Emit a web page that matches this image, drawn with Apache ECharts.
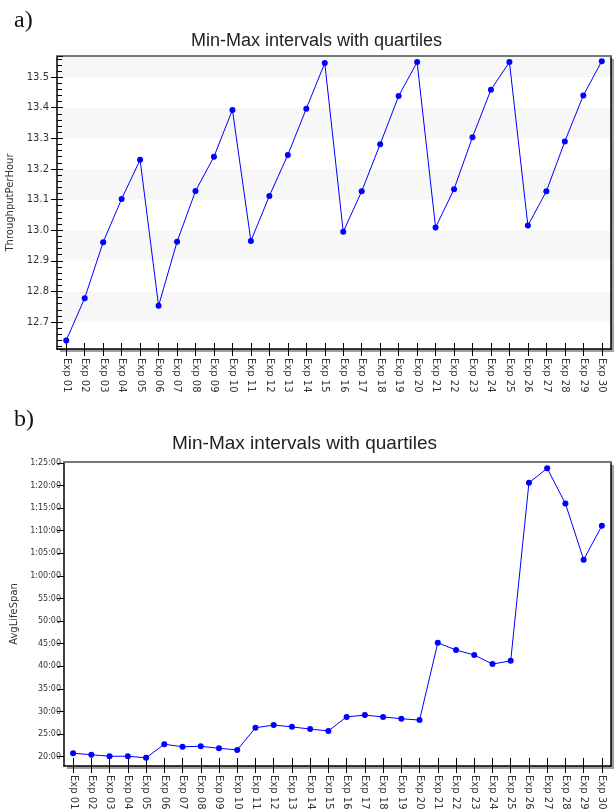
<!DOCTYPE html>
<html>
<head>
<meta charset="utf-8">
<script src="https://cdn.jsdelivr.net/npm/echarts@6/dist/echarts.min.js"></script>
<style>
html,body{margin:0;padding:0;background:#fff;}
#chart{width:615px;height:809px;}
</style>
</head>
<body>
<div id="chart"></div>
<script>
// ---- data ----
const categories = ['Exp 01','Exp 02','Exp 03','Exp 04','Exp 05','Exp 06','Exp 07','Exp 08','Exp 09','Exp 10',
  'Exp 11','Exp 12','Exp 13','Exp 14','Exp 15','Exp 16','Exp 17','Exp 18','Exp 19','Exp 20',
  'Exp 21','Exp 22','Exp 23','Exp 24','Exp 25','Exp 26','Exp 27','Exp 28','Exp 29','Exp 30'];
const throughputPerHour = [12.64, 12.778, 12.961, 13.102, 13.23, 12.753, 12.962, 13.128, 13.24, 13.393,
  12.965, 13.112, 13.246, 13.397, 13.546, 12.995, 13.127, 13.281, 13.438, 13.549,
  13.009, 13.134, 13.304, 13.459, 13.549, 13.015, 13.127, 13.29, 13.44, 13.552];
// average life span in minutes
const avgLifeSpanMin = [20.75, 20.44, 20.1, 20.1, 19.75, 22.75, 22.2, 22.3, 21.85, 21.5,
  26.4, 27.0, 26.6, 26.1, 25.7, 28.8, 29.2, 28.8, 28.4, 28.1,
  45.2, 43.6, 42.5, 40.5, 41.2, 80.6, 83.8, 76.0, 63.6, 71.1];
const chartTitle = 'Min-Max intervals with quartiles';
const yNameTop = 'ThroughputPerHour';
const yNameBottom = 'AvgLifeSpan';

function fmtTime(m) {
  const tot = Math.round(m * 60);
  const h = Math.floor(tot / 3600);
  const mm = Math.floor((tot % 3600) / 60);
  const ss = tot % 60;
  const p = n => String(n).padStart(2, '0');
  return h > 0 ? h + ':' + p(mm) + ':' + p(ss) : p(mm) + ':' + p(ss);
}

const FONT = 'DejaVu Sans';
const chart = echarts.init(document.getElementById('chart'), null, {renderer: 'canvas'});

const gridCommon = {
  show: true, backgroundColor: '#ffffff', borderWidth: 0,
  shadowColor: '#a0a0a0', shadowBlur: 0, shadowOffsetX: 3, shadowOffsetY: 3,
  containLabel: false, outerBoundsMode: 'none'
};

const catAxis = (gi, withLabels, inside, len) => ({
  type: 'category', gridIndex: gi, data: categories, position: 'bottom', boundaryGap: true,
  axisLine: {show: withLabels, lineStyle: {color: '#000', width: 1.5}},
  axisTick: {show: true, alignWithLabel: true, inside: inside, length: len, lineStyle: {color: '#000', width: 1}},
  axisLabel: {show: withLabels, interval: 0, rotate: -90, margin: 9, fontFamily: FONT, fontSize: 10, color: '#333'},
  splitLine: {show: false}
});
const topBorder = gi => ({
  type: 'category', gridIndex: gi, data: categories, position: 'top', boundaryGap: true,
  axisLine: {show: true, lineStyle: {color: '#777', width: 2}},
  axisTick: {show: false}, axisLabel: {show: false}, splitLine: {show: false}
});

// axis ranges (ticks are niced from splitNumber)
const topMin = 12.612, topMax = 13.569;
const botMin = 17.94, botMax = 85.2;

const option = {
  animation: false,
  backgroundColor: '#ffffff',
  title: [
    {text: 'a)', left: 9, top: 4, textStyle: {fontFamily: 'Liberation Serif', fontSize: 24, fontWeight: 'normal', color: '#111'}},
    {text: chartTitle, left: 186, top: 27, textStyle: {fontFamily: 'Liberation Sans', fontSize: 18, fontWeight: 'normal', color: '#222'}},
    {text: 'b)', left: 9, top: 403, textStyle: {fontFamily: 'Liberation Serif', fontSize: 24, fontWeight: 'normal', color: '#111'}},
    {text: chartTitle, left: 167, top: 429, textStyle: {fontFamily: 'Liberation Sans', fontSize: 19, fontWeight: 'normal', color: '#222'}}
  ],
  grid: [
    Object.assign({left: 57, top: 56, right: 4, height: 293}, gridCommon),
    Object.assign({left: 64, top: 462, right: 4, height: 304}, gridCommon)
  ],
  xAxis: [
    catAxis(0, true, false, 7),
    catAxis(0, false, true, 6),
    topBorder(0),
    catAxis(1, true, false, 7),
    catAxis(1, false, true, 8),
    topBorder(1)
  ],
  yAxis: [
    {
      type: 'value', gridIndex: 0, position: 'left', min: topMin, max: topMax, splitNumber: 10,
      name: yNameTop, nameLocation: 'middle', nameGap: 33,
      nameTextStyle: {fontFamily: FONT, fontSize: 10, color: '#333'},
      axisLine: {show: true, lineStyle: {color: '#000', width: 1.5}},
      axisTick: {show: true, length: 6, lineStyle: {color: '#000'}},
      axisLabel: {fontFamily: FONT, fontSize: 10, color: '#333', margin: 8, showMinLabel: false, showMaxLabel: false,
        formatter: v => v.toFixed(1)},
      splitLine: {show: false},
      splitArea: {show: true, areaStyle: {color: ['#ffffff', '#f7f7f7']}}
    },
    {
      type: 'value', gridIndex: 0, position: 'left', min: topMin, max: topMax, splitNumber: 10,
      axisLine: {show: false}, axisLabel: {show: false}, splitLine: {show: false},
      axisTick: {show: true, inside: true, length: 6, lineStyle: {color: '#000'}},
      minorTick: {show: true, splitNumber: 5, length: 5, lineStyle: {color: '#000'}}
    },
    {
      type: 'value', gridIndex: 0, position: 'right', min: topMin, max: topMax,
      axisLine: {show: true, lineStyle: {color: '#000', width: 1.5}},
      axisTick: {show: false}, axisLabel: {show: false}, splitLine: {show: false}
    },
    {
      type: 'value', gridIndex: 1, position: 'left', min: botMin, max: botMax, splitNumber: 13,
      name: yNameBottom, nameLocation: 'middle', nameGap: 43,
      nameTextStyle: {fontFamily: FONT, fontSize: 10, color: '#333'},
      axisLine: {show: true, lineStyle: {color: '#000', width: 1.5}},
      axisTick: {show: true, length: 7, lineStyle: {color: '#000'}},
      axisLabel: {fontFamily: FONT, fontSize: 8, color: '#333', margin: 3, showMinLabel: false, showMaxLabel: false,
        formatter: v => fmtTime(v)},
      splitLine: {show: false}
    },
    {
      type: 'value', gridIndex: 1, position: 'right', min: botMin, max: botMax,
      axisLine: {show: true, lineStyle: {color: '#000', width: 1.5}},
      axisTick: {show: false}, axisLabel: {show: false}, splitLine: {show: false}
    }
  ],
  series: [
    {
      type: 'line', xAxisIndex: 0, yAxisIndex: 0, data: throughputPerHour,
      symbol: 'circle', symbolSize: 6,
      itemStyle: {color: '#0000ff'}, lineStyle: {color: '#0000ff', width: 1}
    },
    {
      type: 'line', xAxisIndex: 3, yAxisIndex: 3, data: avgLifeSpanMin,
      symbol: 'circle', symbolSize: 6,
      itemStyle: {color: '#0000ff'}, lineStyle: {color: '#0000ff', width: 1}
    }
  ]
};
chart.setOption(option);
</script>
</body>
</html>
